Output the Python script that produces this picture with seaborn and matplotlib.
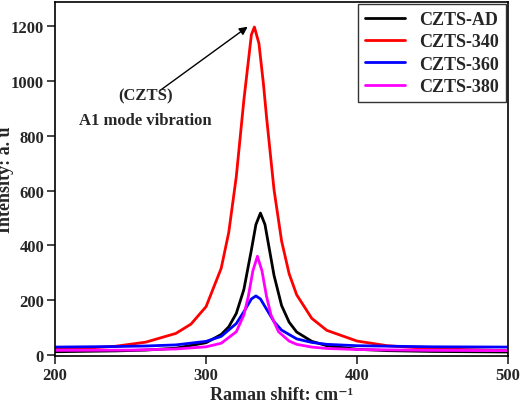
import matplotlib
matplotlib.use("Agg")
import matplotlib.pyplot as plt
import seaborn as sns
import pandas as pd

sns.set_theme(style="ticks")
plt.rcParams['font.family'] = ['Liberation Serif', 'DejaVu Serif']
plt.rcParams['font.weight'] = 'bold'

x_ad = [200,240,260,280,300,310,315,320,325,330,333,336,339,342,345,350,355,360,370,380,400,420,450,500]
y_ad = [11,14,17,24,44,74,102,151,238,383,476,518,476,383,290,180,119,83,49,33,20,15,12,10]
x_340 = [200,220,240,260,280,290,300,310,315,320,325,330,332,335,338,340,345,350,355,360,370,380,400,420,450,500]
y_340 = [20,24,31,46,78,112,176,316,447,651,930,1170,1198,1138,989,871,603,416,296,219,133,89,50,33,22,15]
x_360 = [200,240,260,280,300,310,320,325,330,333,336,340,345,350,360,370,380,400,450,500]
y_360 = [28,30,32,36,49,67,114,157,204,215,204,167,121,90,58,45,38,33,29,28]
x_380 = [200,250,280,300,310,320,325,328,331,334,337,340,343,348,355,360,370,380,400,450,500]
y_380 = [16,17,21,29,42,84,145,214,307,360,307,214,145,84,50,38,28,23,19,16,15]

series = [("CZTS-AD", x_ad, y_ad, "black"), ("CZTS-340", x_340, y_340, "#ff0000"),
          ("CZTS-360", x_360, y_360, "#0000ff"), ("CZTS-380", x_380, y_380, "#ff00ff")]

fig = plt.figure(figsize=(5.2, 4.1), dpi=100)
ax = fig.add_axes([0.106, 0.129, 0.871, 0.864])
for name, xs, ys, c in series:
    df = pd.DataFrame({"x": xs, "y": ys})
    sns.lineplot(data=df, x="x", y="y", ax=ax, color=c, lw=2, label=name)

ax.set_xlim(200, 500)
ax.set_ylim(-5, 1290)
ax.set_xticks([200, 300, 400, 500])
ax.set_yticks(range(0, 1201, 200))
ax.tick_params(labelsize=12, width=1.2, pad=2)
for s in ax.spines.values():
    s.set_linewidth(1.2); s.set_color('black')
ax.set_xlabel("Raman shift: cm⁻¹", fontsize=13, fontweight='bold', labelpad=2)
ax.set_ylabel("Intensity: a. u", fontsize=13, fontweight='bold')
ax.yaxis.set_label_coords(-0.09, 0.5)
ax.annotate("", xy=(329, 1205), xytext=(268, 960),
            arrowprops=dict(arrowstyle="-|>", color="black", lw=1))
ax.text(260, 935, "(CZTS)", ha='center', fontsize=12, fontweight='bold')
ax.text(260, 845, "A1 mode vibration", ha='center', fontsize=12, fontweight='bold')
leg = ax.legend(loc='upper right', fontsize=13, frameon=True, fancybox=False,
                edgecolor='black', borderaxespad=0.1, handlelength=2.2,
                labelspacing=0.3)
leg.get_frame().set_linewidth(1)
fig.savefig("out.png", dpi=100)
